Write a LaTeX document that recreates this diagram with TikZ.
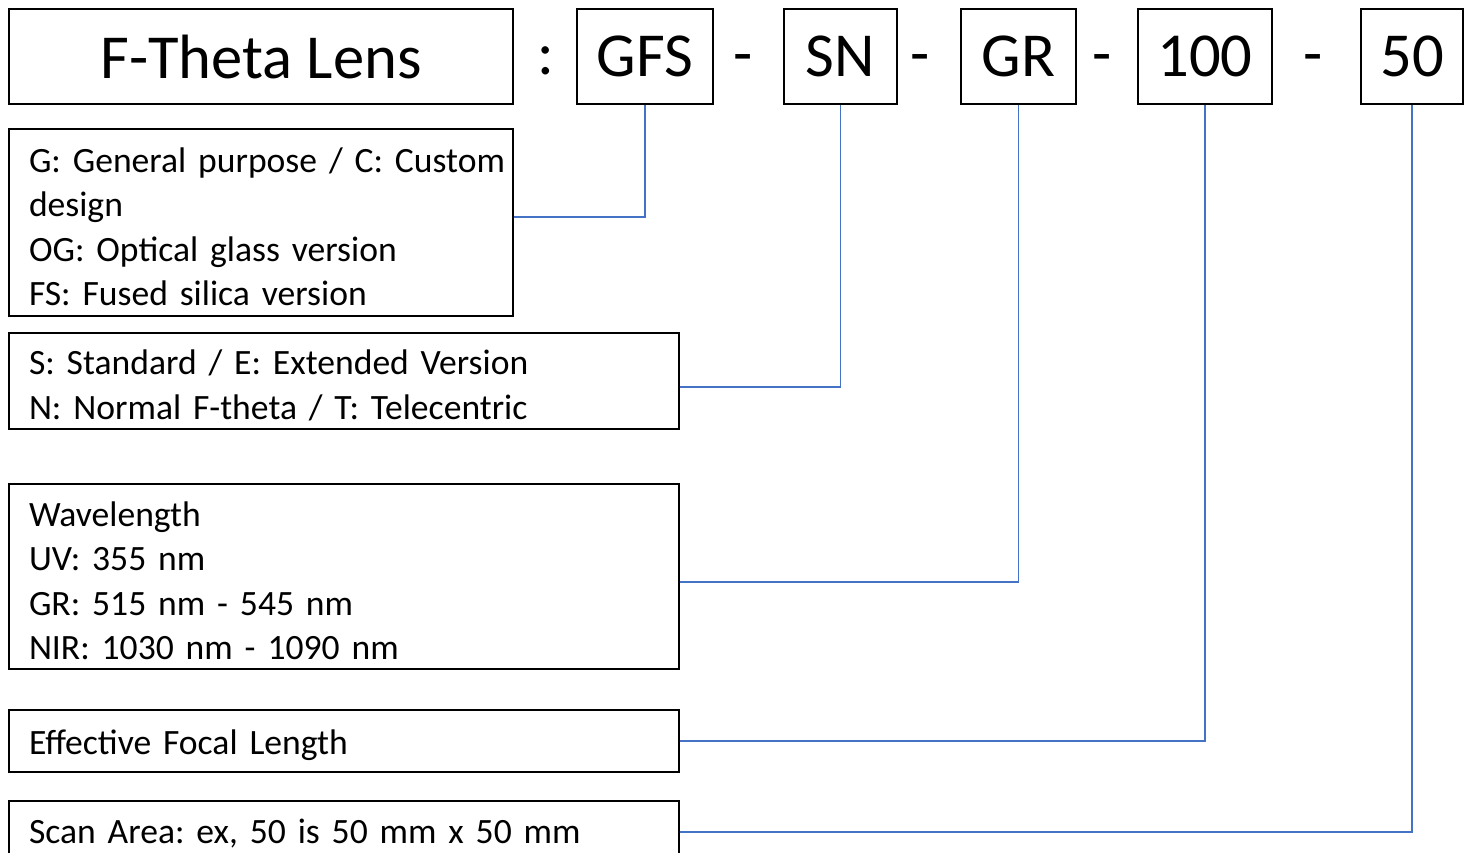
\documentclass[tikz,border=0pt]{standalone}
\usepackage{fontspec}
\setmainfont{Carlito}
\usetikzlibrary{positioning}
\definecolor{linkblue}{HTML}{4472C4}

\begin{document}
\begin{tikzpicture}[x=0.5pt, y=-0.5pt,
  codebox/.style={draw, line width=1pt, minimum height=47.5pt, inner sep=0pt,
                  font=\fontsize{31.3}{36}\selectfont, anchor=north west},
  descbox/.style={draw, line width=1pt, inner xsep=10pt, inner ysep=0pt,
                  text width=#1, align=left, anchor=north west,
                  font=\fontsize{17.8}{22.25}\selectfont\frenchspacing,
                  execute at begin node={\rule{0pt}{16.5pt}}},
  sepmark/.style={font=\fontsize{31.3}{36}\selectfont, inner sep=0pt, anchor=base},
  link/.style={draw=linkblue, line width=0.8pt},
  ]
  \useasboundingbox (0,0) rectangle (1470,852);
  \clip (0,0) rectangle (1470,852);

  % part number
  \node[codebox, minimum width=252pt] (title) at (8,8) {F-Theta Lens};
  \node[codebox, minimum width=68pt] (gfs) at (576,8) {GFS};
  \node[codebox, minimum width=56.5pt] (sn) at (783,8) {SN};
  \node[codebox, minimum width=57.5pt] (gr) at (960,8) {GR};
  \node[codebox, minimum width=67pt] (efl) at (1137,8) {100};
  \node[codebox, minimum width=51pt] (area) at (1360,8) {50};

  \node[sepmark] (colon) at (546,74) {:};
  \node[sepmark] (dash1) at (743,74) {-};
  \node[sepmark] (dash2) at (920,74) {-};
  \node[sepmark] (dash3) at (1102,74) {-};
  \node[sepmark] (dash4) at (1313,74) {-};

  % descriptions
  \node[descbox=232pt, minimum height=93.5pt,
        below=11.5pt of title.south west, anchor=north west] (type)
    {\mbox{G: General purpose / C: Custom}\\ design\\
     OG: Optical glass version\\ FS: Fused silica version};
  \node[descbox=315pt, minimum height=48pt,
        below=7.5pt of type.south west, anchor=north west] (version)
    {S: Standard / E: Extended Version\\ N: Normal F-theta / T: Telecentric};
  \node[descbox=315pt, minimum height=92.5pt,
        below=26.5pt of version.south west, anchor=north west] (wave)
    {Wavelength\\ UV: 355 nm\\ GR: 515 nm - 545 nm\\ NIR: 1030 nm - 1090 nm};
  \node[descbox=315pt, minimum height=31pt,
        below=19.5pt of wave.south west, anchor=north west] (focal)
    {Effective Focal Length};
  \node[descbox=315pt, minimum height=28pt,
        below=13.5pt of focal.south west, anchor=north west] (scan)
    {Scan Area: ex, 50 is 50 mm x 50 mm};

  \draw[link] (gfs.south) |- ([yshift=2.75pt]type.east);
  \draw[link] (sn.south) |- ([yshift=-3pt]version.east);
  \draw[link] (gr.south) |- ([yshift=-2.75pt]wave.east);
  \draw[link] (efl.south) |- (focal.east);
  \draw[link] (area.south) |- ([yshift=-1.5pt]scan.east);
\end{tikzpicture}
\end{document}
